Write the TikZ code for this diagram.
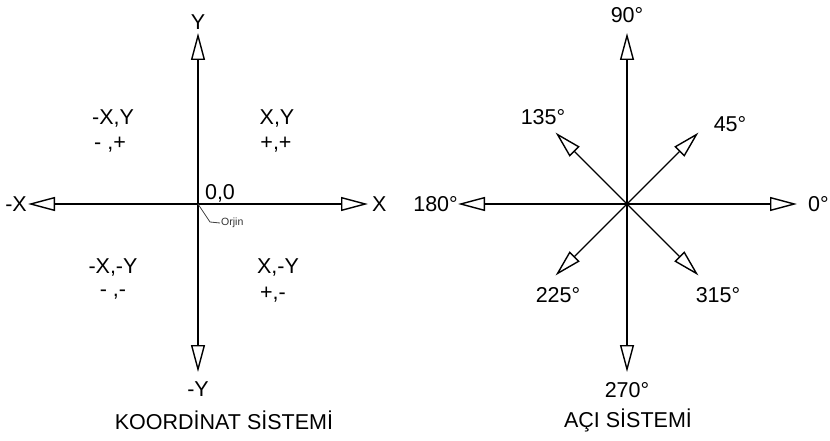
\documentclass[tikz,border=0pt]{standalone}
\usepackage{fontspec}
\setmainfont{Liberation Sans}
\usepackage{tikz}
\usetikzlibrary{positioning,arrows.meta}

\begin{document}
\begin{tikzpicture}[
  x=1pt, y=1pt,
  font=\fontsize{21.5}{24}\selectfont,
  lbl/.style={inner sep=0pt},
  axis/.style={line width=1.4pt, -{Triangle[length=27pt,width=14pt,fill=white]}},
  lead/.style={line width=0.8pt, black!75},
]
\fill[white] (0,0) rectangle (830,440);
\useasboundingbox (0,0) rectangle (830,440);
% koordinat sistemi
\coordinate (o1) at (198,236);
\coordinate (yp) at (198,407);
\coordinate (yn) at (198,68);
\coordinate (xp) at (368,236);
\coordinate (xn) at (28,236);
\draw[axis] (o1) -- (yp); \draw[axis] (o1) -- (yn);
\draw[axis] (o1) -- (xp); \draw[axis] (o1) -- (xn);
\node[lbl, above=3pt of yp] (ly) {Y};
\node[lbl, below=10pt of yn] (lny) {-Y};
\node[lbl, right=4pt of xp] (lx) {X};
\node[lbl, left=1pt of xn] (lnx) {-X};
\node (q2a) at (113,322) {-X,Y};
\node (q2b) at (110,295) {- ,+};
\node (q1a) at (277,322) {X,Y};
\node (q1b) at (276,295) {+,+};
\node (q3a) at (113,173) {-X,-Y};
\node (q3b) at (113,145) {- ,-};
\node (q4a) at (278,173) {X,-Y};
\node (q4b) at (273,145) {+,-};
\node (zero) at (220,247) {0,0};
\node[font=\fontsize{10.5}{12}\selectfont, anchor=west, inner sep=1pt, black!80] (orj) at (220,217) {Orjin};
\draw[lead] (o1) -- (210,218) -- (orj.west);
\node (t1) at (224,20) {KOORDİNAT SİSTEMİ};
% aci sistemi
\coordinate (o2) at (627,236);
\foreach \a/\r in {0/170,45/101,90/171,135/101,180/169,225/101,270/168,315/101}
  \draw[axis] (o2) -- ++(\a:\r) coordinate (a\a);
\node[lbl, above=10pt of a90] (l90) {90°};
\node[lbl, below=10pt of a270] (l270) {270°};
\node[lbl, left=0pt of a180] (l180) {180°};
\node[lbl, right=11pt of a0] (l0) {0°};
\node (l135) at (543,323) {135°};
\node (l45) at (730,316) {45°};
\node (l225) at (558,145) {225°};
\node (l315) at (718,145) {315°};
\fill (o2) circle (1.8pt);
\node (t2) at (628,20) {AÇI SİSTEMİ};
\end{tikzpicture}
\end{document}
